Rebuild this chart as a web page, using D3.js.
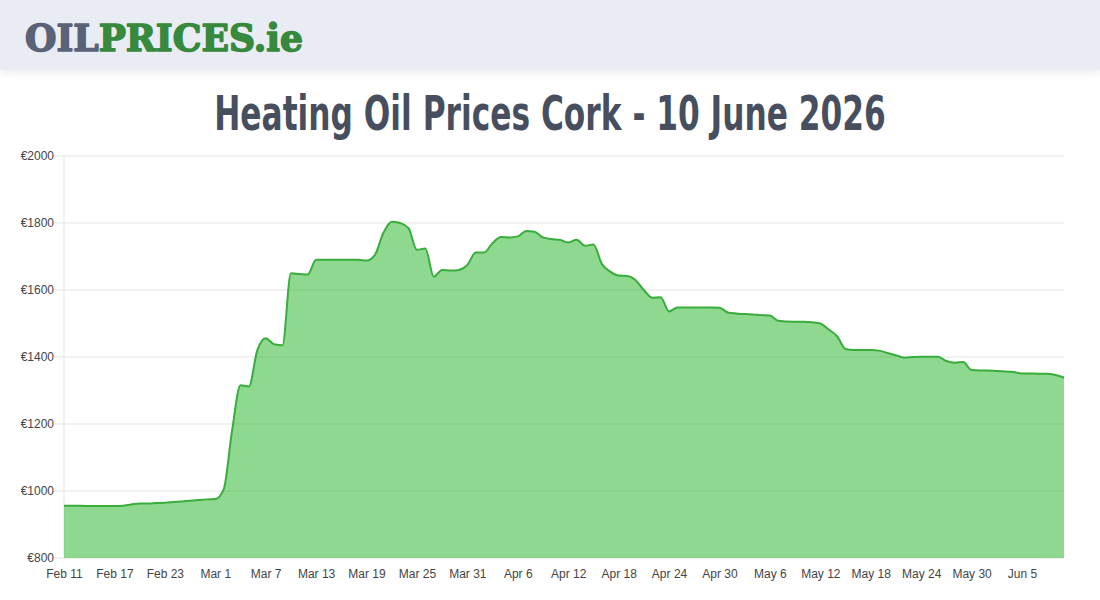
<!DOCTYPE html>
<html lang="en">
<head>
  <meta charset="UTF-8">
  <title>Heating Oil Prices Cork</title>
  <style>
    body { margin: 0; background: #fff; font-family: "Liberation Sans", Arial, sans-serif; }
    .header {
      height: 70px;
      background: #e9ecf3;
      box-shadow: 0 3px 8px rgba(0, 0, 0, 0.08);
      position: relative;
    }
    svg { display: block; }
    .grid line { stroke: #e3e3e3; }
    .axis text { fill: #444; font-size: 12px; font-family: "Liberation Sans", Arial, sans-serif; }
  </style>
</head>
<body>
<div class="header">
  <svg id="logo" width="400" height="70"></svg>
</div>
<svg id="chart" width="1100" height="530"></svg>

<script src="https://cdn.jsdelivr.net/npm/d3@7"></script>
<script>
  const startDate = new Date(2026, 1, 11);
  // daily prices (EUR) from Feb 11 to Jun 10
  const prices = [
    956, 956, 956, 955, 955, 955, 955, 956, 960, 963,
    963, 964, 965, 967, 969, 971, 973, 975, 976, 1005,
    1180, 1316, 1312, 1420, 1456, 1438, 1435, 1650, 1648, 1646,
    1690, 1690, 1690, 1690, 1690, 1690, 1688, 1705, 1770, 1804,
    1800, 1785, 1720, 1724, 1640, 1660, 1658, 1660, 1675, 1712,
    1712, 1740, 1758, 1757, 1760, 1776, 1774, 1757, 1752, 1750,
    1742, 1750, 1732, 1736, 1678, 1655, 1643, 1642, 1630, 1600,
    1577, 1578, 1536, 1548, 1548, 1548, 1548, 1548, 1547, 1533,
    1530, 1528, 1527, 1525, 1524, 1508, 1506, 1505, 1505, 1504,
    1500, 1482, 1462, 1424, 1421, 1421, 1421, 1419, 1412, 1405,
    1398, 1400, 1401, 1401, 1401, 1388, 1383, 1385, 1361, 1360,
    1360, 1358, 1357, 1355, 1351, 1351, 1350, 1350, 1346, 1339
  ];
  const yTicks = [800, 1000, 1200, 1400, 1600, 1800, 2000];
  const xTickLabels = ["Feb 11", "Feb 17", "Feb 23", "Mar 1", "Mar 7", "Mar 13", "Mar 19", "Mar 25",
    "Mar 31", "Apr 6", "Apr 12", "Apr 18", "Apr 24", "Apr 30", "May 6", "May 12", "May 18",
    "May 24", "May 30", "Jun 5"];
  const titleText = "Heating Oil Prices Cork - 10 June 2026";

  const data = prices.map((v, i) => ({ date: d3.timeDay.offset(startDate, i), value: v }));
  const tickDates = xTickLabels.map((d, i) => d3.timeDay.offset(startDate, i * 6));

  // logo (heavy slab look: serif bold + same-colour stroke)
  const logo = d3.select("#logo");
  const logoText = logo.append("text")
    .attr("x", 25)
    .attr("y", 51)
    .attr("textLength", 278)
    .attr("lengthAdjust", "spacingAndGlyphs")
    .attr("stroke-width", 1.6)
    .attr("stroke-linejoin", "round")
    .style("font-family", "'DejaVu Serif', serif")
    .style("font-weight", "900")
    .style("font-size", "38px");
  logoText.append("tspan").attr("fill", "#596276").attr("stroke", "#596276").text("OIL");
  logoText.append("tspan").attr("fill", "#37893d").attr("stroke", "#37893d").text("PRICES.ie");

  const margin = {top: 86, right: 36, bottom: 42, left: 64},
    width = 1100 - margin.left - margin.right,
    height = 530 - margin.top - margin.bottom;

  const root = d3.select("#chart");

  // title: condensed look by squeezing horizontally to the reference width
  const title = root.append("text")
    .attr("x", 0)
    .attr("y", 0)
    .attr("text-anchor", "middle")
    .attr("fill", "#474f5f")
    .style("font-family", "'DejaVu Sans Condensed', 'Liberation Sans', sans-serif")
    .style("font-weight", "bold")
    .style("font-size", "48px")
    .text(titleText);
  const natural = title.node().getComputedTextLength();
  const sx = natural > 0 ? 672 / natural : 1;
  title.attr("transform", "translate(550,60) scale(" + sx.toFixed(3) + ",1)");

  const svg = root.append("g")
    .attr("transform", "translate(" + margin.left + "," + margin.top + ")");

  const xScale = d3.scaleTime()
    .domain(d3.extent(data, d => d.date))
    .range([0, width]);

  const yScale = d3.scaleLinear()
    .domain([800, 2000])
    .range([height, 0]);

  // horizontal grid
  svg.append("g")
    .attr("class", "grid")
    .selectAll("line")
    .data(yTicks)
    .enter()
    .append("line")
    .attr("x1", -10)
    .attr("x2", width)
    .attr("y1", d => yScale(d))
    .attr("y2", d => yScale(d));

  svg.append("line")
    .attr("x1", 0).attr("x2", 0)
    .attr("y1", 0).attr("y2", height)
    .attr("stroke", "#e3e3e3");

  const area = d3.area()
    .x(d => xScale(d.date))
    .y0(height)
    .y1(d => yScale(d.value))
    .curve(d3.curveMonotoneX);

  const line = d3.line()
    .x(d => xScale(d.date))
    .y(d => yScale(d.value))
    .curve(d3.curveMonotoneX);

  svg.append("path")
    .datum(data)
    .attr("fill", "rgba(40, 180, 40, 0.52)")
    .attr("d", area);

  svg.append("path")
    .datum(data)
    .attr("fill", "none")
    .attr("stroke", "#38ad3c")
    .attr("stroke-width", 2)
    .attr("d", line);

  // axes
  const yAxis = svg.append("g")
    .attr("class", "axis")
    .call(d3.axisLeft(yScale)
      .tickValues(yTicks)
      .tickSize(0)
      .tickPadding(10)
      .tickFormat(d => "€" + d));
  yAxis.select(".domain").remove();

  const xAxis = svg.append("g")
    .attr("class", "axis")
    .attr("transform", "translate(0," + height + ")")
    .call(d3.axisBottom(xScale)
      .tickValues(tickDates)
      .tickSize(0)
      .tickPadding(11)
      .tickFormat((d, i) => xTickLabels[i]));
  xAxis.select(".domain").remove();
</script>
</body>
</html>
